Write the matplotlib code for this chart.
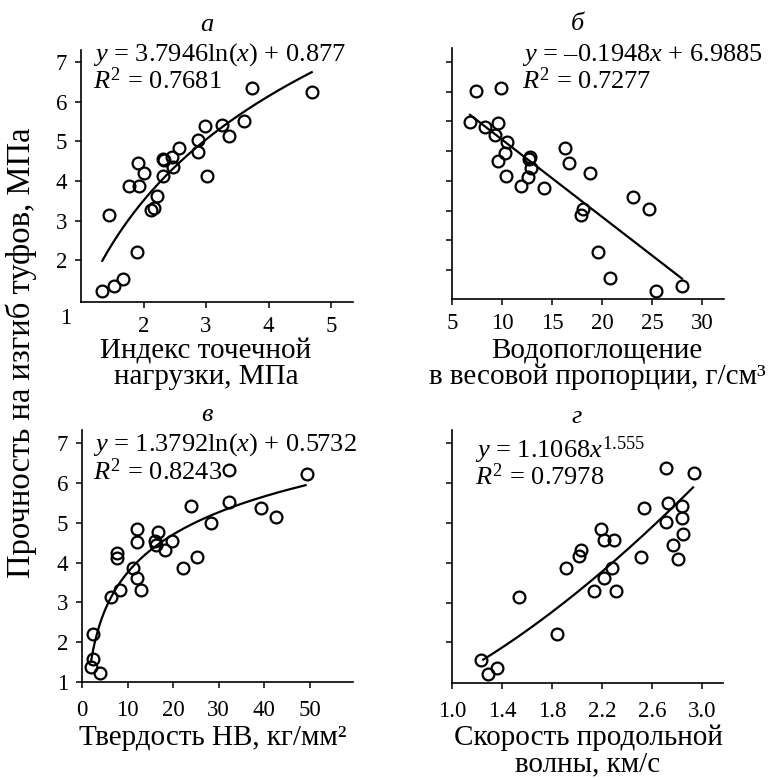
import numpy as np
import matplotlib
matplotlib.use("Agg")
import matplotlib.pyplot as plt

plt.rcParams['font.family'] = ['Liberation Serif', 'DejaVu Serif']
plt.rcParams['mathtext.fontset'] = 'custom'
plt.rcParams['mathtext.rm'] = 'Liberation Serif'
plt.rcParams['mathtext.it'] = 'Liberation Serif:italic'

# ---- data ----
a_x = [1.33, 1.53, 1.67, 1.45, 1.89, 1.77, 1.93, 1.91, 2.01, 2.12, 2.17, 2.21, 2.31, 2.31,
       2.33, 2.45, 2.47, 2.57, 2.87, 2.87, 2.98, 3.01, 3.26, 3.36, 3.60, 3.73, 4.69]
a_y = [1.22, 1.35, 1.54, 3.14, 2.20, 3.88, 3.88, 4.45, 4.20, 3.28, 3.32, 3.61, 4.13, 4.56,
       4.52, 4.60, 4.35, 4.82, 4.72, 5.04, 5.38, 4.12, 5.40, 5.13, 5.50, 6.35, 6.24]
a_coef = (3.7946, 0.877)
a_range = (1.34, 4.69)

b_x = [6.77, 7.43, 8.33, 9.57, 9.33, 9.9, 10.5, 10.33, 9.57, 10.37, 11.93, 12.83, 12.93,
       12.57, 14.2, 12.7, 16.27, 16.7, 18.8, 18.1, 17.9, 23.07, 24.7, 19.57, 20.8, 25.4, 28.0]
b_y = [5.48, 6.27, 5.36, 5.45, 5.15, 6.35, 4.97, 4.71, 4.50, 4.12, 3.87, 4.59, 4.33,
       4.10, 3.83, 4.55, 4.83, 4.44, 4.19, 3.30, 3.15, 3.60, 3.30, 2.20, 1.55, 1.23, 1.35]
b_coef = (-0.1948, 6.9885)
b_range = (6.8, 28.0)

c_x = [1.9, 2.4, 3.9, 2.4, 6.44, 8.27, 7.76, 7.76, 11.2, 12.08, 12.9, 12.08, 12.08, 15.96,
       16.2, 16.76, 18.15, 19.77, 24.0, 22.2, 25.3, 28.4, 32.3, 32.3, 39.2, 42.5, 49.4]
c_y = [1.38, 1.58, 1.23, 2.21, 3.13, 3.30, 4.24, 4.11, 3.86, 3.61, 3.30, 4.84, 4.52, 4.53,
       4.45, 4.77, 4.31, 4.55, 5.41, 3.86, 4.13, 4.99, 5.51, 6.33, 5.37, 5.15, 6.22]
c_coef = (1.3792, 0.5732)
c_range = (1.98, 49.1)

d_x = [1.23, 1.29, 1.36, 1.54, 1.84, 1.91, 2.03, 2.02, 2.14, 2.19, 2.22, 2.22, 2.30, 2.28,
       2.31, 2.51, 2.54, 2.71, 2.71, 2.73, 2.84, 2.84, 2.85, 2.77, 2.81, 2.94]
d_y = [1.56, 1.21, 1.35, 3.14, 2.21, 3.86, 4.32, 4.18, 3.30, 4.84, 3.61, 4.56, 4.56, 3.86,
       3.29, 4.14, 5.36, 6.37, 5.01, 5.51, 5.41, 5.13, 4.72, 4.45, 4.10, 6.25]
d_coef = (1.1068, 1.555)
d_range = (1.25, 2.93)

titles = ['а', 'б', 'в', 'г']
a_xticks = [2, 3, 4, 5]
b_xticks = [5, 10, 15, 20, 25, 30]
c_xticks = [0, 10, 20, 30, 40, 50]
d_xticks = [1.0, 1.4, 1.8, 2.2, 2.6, 3.0]
d_xticklabels = ['1.0', '1.4', '1.8', '2.2', '2.6', '3.0']

fig = plt.figure(figsize=(7.73, 7.80), dpi=100)
W, H = 773, 780

def make_ax(l, r, t, b):
    return fig.add_axes([l / W, 1 - b / H, (r - l) / W, (b - t) / H])

axA = make_ax(81, 353, 50, 302)
axB = make_ax(452, 724, 48, 299)
axC = make_ax(82, 353, 430, 682)
axD = make_ax(452, 723, 430, 683)

TICK_FS = 16.5
EQ_FS = 19
LAB_FS = 21

for ax in (axA, axB, axC, axD):
    for s in ('top', 'right'):
        ax.spines[s].set_visible(False)
    for s in ('left', 'bottom'):
        ax.spines[s].set_linewidth(1.2)
    ax.tick_params(direction='out', length=4, width=1.1, labelsize=TICK_FS)

def scatter(ax, x, y):
    ax.plot(x, y, 'o', ms=8.5, mfc='none', mec='black', mew=1.6, zorder=3)

# Panel a
scatter(axA, a_x, a_y)
xs = np.linspace(*a_range, 200)
axA.plot(xs, a_coef[0] * np.log(xs) + a_coef[1], color='black', lw=1.6)
axA.set_xlim(1, 5.35)
axA.set_ylim(0.95, 7.3)
axA.set_xticks(a_xticks)
axA.set_yticks([2, 3, 4, 5, 6, 7])
axA.tick_params(axis='x', pad=6)
axA.tick_params(axis='y', pad=6)

# Panel б
scatter(axB, b_x, b_y)
xs = np.linspace(*b_range, 50)
axB.plot(xs, b_coef[0] * xs + b_coef[1], color='black', lw=1.6)
axB.set_xlim(5, 32.2)
axB.set_ylim(1.02, 7.35)
axB.set_xticks(b_xticks)
axB.set_yticks(np.arange(1.75, 7.01, 0.75))
axB.set_yticklabels([])
axB.tick_params(axis='x', pad=6)

# Panel в
scatter(axC, c_x, c_y)
xs = np.linspace(*c_range, 300)
axC.plot(xs, c_coef[0] * np.log(xs) + c_coef[1], color='black', lw=1.6)
axC.set_xlim(0, 59.5)
axC.set_ylim(1.0, 7.33)
axC.set_xticks(c_xticks)
axC.set_yticks([1, 2, 3, 4, 5, 6, 7])
axC.tick_params(axis='x', pad=9)
axC.tick_params(axis='y', pad=6)

# Panel г
scatter(axD, d_x, d_y)
xs = np.linspace(*d_range, 200)
axD.plot(xs, d_coef[0] * xs ** d_coef[1], color='black', lw=1.6)
axD.set_xlim(1.0, 3.17)
axD.set_ylim(0.98, 7.33)
axD.set_xticks(d_xticks)
axD.set_xticklabels(d_xticklabels)
axD.set_yticks([2, 3, 4, 5, 6, 7])
axD.set_yticklabels([])
axD.tick_params(axis='x', pad=9)

def ftext(x, y, s, **kw):
    fig.text(x / W, 1 - y / H, s, **kw)

# stray "1" of panel a
ftext(66, 318, '1', ha='center', va='center', fontsize=TICK_FS)

# titles
ftext(207, 25, titles[0], ha='center', va='center', fontsize=19, style='italic')
ftext(577, 24, titles[1], ha='center', va='center', fontsize=19, style='italic')
ftext(207, 415, titles[2], ha='center', va='center', fontsize=19, style='italic')
ftext(577, 417, titles[3], ha='center', va='center', fontsize=19, style='italic')

# equations
ftext(93, 55, r'$y$ = 3.7946ln($x$) + 0.877', ha='left', va='center', fontsize=EQ_FS)
ftext(93, 81, r'$R^2$ = 0.7681', ha='left', va='center', fontsize=EQ_FS)
ftext(522, 55, r'$y$ = –0.1948$x$ + 6.9885', ha='left', va='center', fontsize=EQ_FS)
ftext(522, 81, r'$R^2$ = 0.7277', ha='left', va='center', fontsize=EQ_FS)
ftext(93, 445, r'$y$ = 1.3792ln($x$) + 0.5732', ha='left', va='center', fontsize=EQ_FS)
ftext(93, 472, r'$R^2$ = 0.8243', ha='left', va='center', fontsize=EQ_FS)
ftext(475, 450, r'$y$ = 1.1068$x^{1.555}$', ha='left', va='center', fontsize=EQ_FS)
ftext(475, 477, r'$R^2$ = 0.7978', ha='left', va='center', fontsize=EQ_FS)

# axis labels
ftext(206, 364, 'Индекс точечной\nнагрузки, МПа', ha='center', va='center',
      fontsize=LAB_FS, linespacing=1.0)
ftext(597, 364, 'Водопоглощение\nв весовой пропорции, г/см³', ha='center', va='center',
      fontsize=LAB_FS, linespacing=1.0)
ftext(213, 738, 'Твердость HB, кг/мм²', ha='center', va='center', fontsize=LAB_FS)
ftext(588, 751, 'Скорость продольной\nволны, км/с', ha='center', va='center',
      fontsize=LAB_FS, linespacing=1.0)
ftext(21, 353, 'Прочность на изгиб туфов, МПа', ha='center', va='center',
      fontsize=23.5, rotation=90)

fig.savefig('out.png', dpi=100)
